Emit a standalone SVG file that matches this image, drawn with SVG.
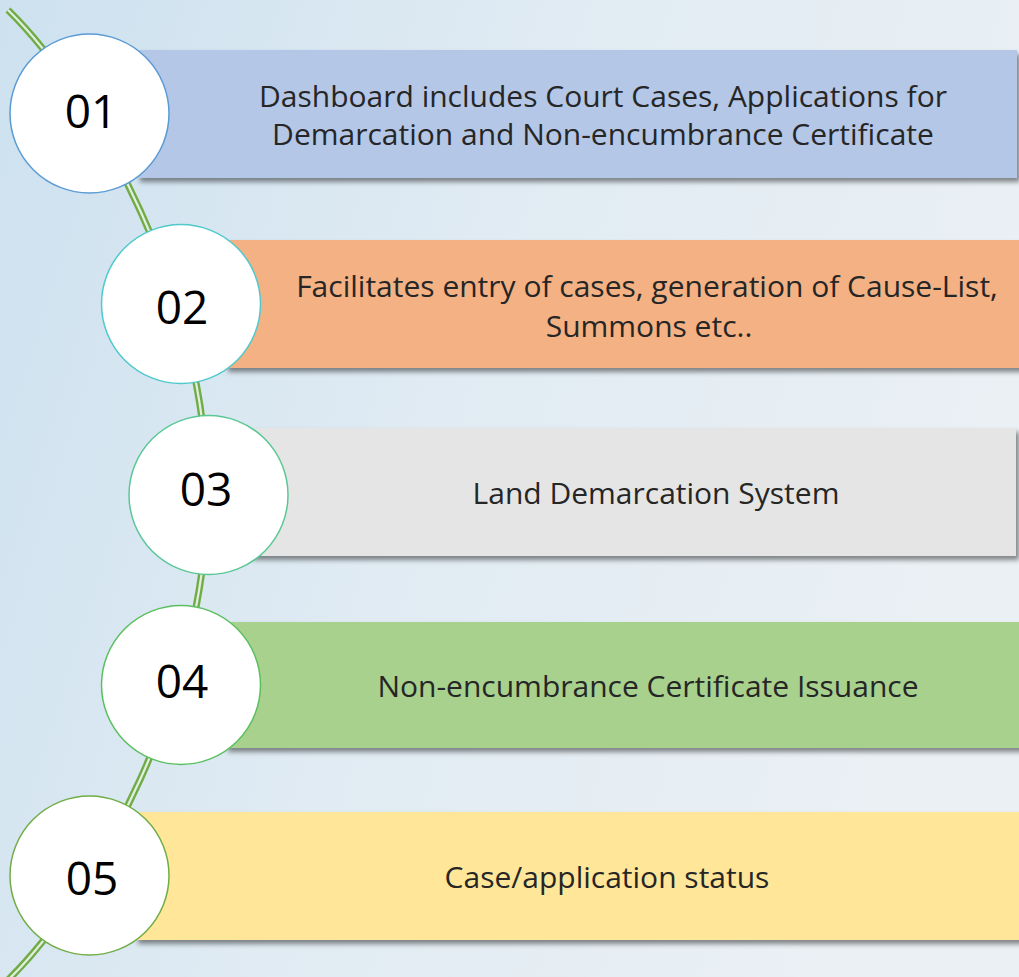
<svg xmlns="http://www.w3.org/2000/svg" width="1019" height="977" viewBox="0 0 1019 977">
<defs>
<linearGradient id="bg" x1="0" y1="0" x2="1" y2="0.3">
<stop offset="0" stop-color="#cde1ef"/>
<stop offset="0.5" stop-color="#e0ebf3"/>
<stop offset="1" stop-color="#eaf0f4"/>
</linearGradient>
<filter id="sh" x="-5%" y="-10%" width="112%" height="130%">
<feDropShadow dx="3" dy="4" stdDeviation="2.5" flood-color="#000" flood-opacity="0.45"/>
</filter>
<style>
.bar{filter:url(#sh)}
.num{font-family:"Segoe UI","Open Sans","Noto Sans",sans-serif;font-size:46px;fill:#000;text-anchor:middle}
.lbl{font-family:"Segoe UI","Open Sans","Noto Sans",sans-serif;font-size:30px;fill:#262626;text-anchor:middle}
.cir{fill:#fff;stroke-width:1.5}
</style>
</defs>
<rect width="1019" height="977" fill="url(#bg)"/>
<g id="connectors">
<path d="M8 10 C95 95 208 300 207 495 C208 690 95 895 8 980" fill="none" stroke="#70ad47" stroke-width="7"/>
<path d="M8 10 C95 95 208 300 207 495 C208 690 95 895 8 980" fill="none" stroke="#e4eee0" stroke-width="2.2"/>
</g>
<g id="node1">
<rect class="bar" x="137" y="50" width="880" height="128" fill="#b4c7e7"/>
<circle class="cir" cx="89.5" cy="113.5" r="79.5" stroke="#5b9bd5"/>
<text class="num" x="91" y="128">01</text>
<text class="lbl" x="603" y="107">Dashboard includes Court Cases, Applications for</text>
<text class="lbl" x="603" y="145">Demarcation and Non-encumbrance Certificate</text>
</g>
<g id="node2">
<rect class="bar" x="225" y="240" width="800" height="128" fill="#f4b183"/>
<circle class="cir" cx="181" cy="304" r="79.5" stroke="#4fc9cc"/>
<text class="num" x="182" y="324">02</text>
<text class="lbl" x="647" y="297">Facilitates entry of cases, generation of Cause-List,</text>
<text class="lbl" x="649" y="337">Summons etc..</text>
</g>
<g id="node3">
<rect class="bar" x="250" y="428" width="766" height="128" fill="#e5e5e5"/>
<circle class="cir" cx="208.5" cy="495" r="79.5" stroke="#5ac796"/>
<text class="num" x="206" y="506">03</text>
<text class="lbl" x="656" y="504">Land Demarcation System</text>
</g>
<g id="node4">
<rect class="bar" x="225" y="622" width="800" height="126" fill="#a9d18e"/>
<circle class="cir" cx="181" cy="685" r="79.5" stroke="#5abf5e"/>
<text class="num" x="182" y="698">04</text>
<text class="lbl" x="648" y="697">Non-encumbrance Certificate Issuance</text>
</g>
<g id="node5">
<rect class="bar" x="135" y="812" width="890" height="128" fill="#ffe699"/>
<circle class="cir" cx="89.5" cy="875.5" r="79.5" stroke="#70ad47"/>
<text class="num" x="92" y="895">05</text>
<text class="lbl" x="607" y="888">Case/application status</text>
</g>
</svg>
